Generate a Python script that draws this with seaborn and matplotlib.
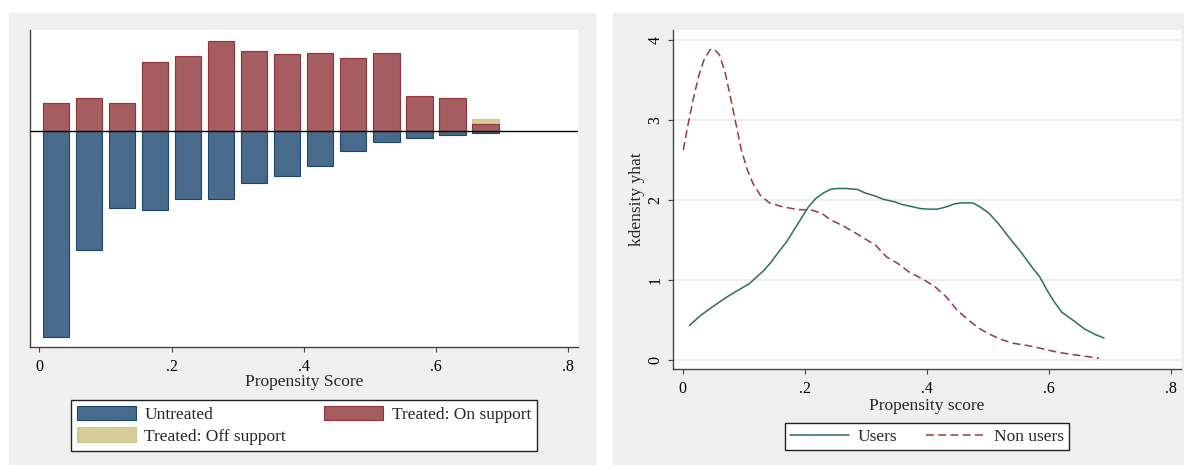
import matplotlib
matplotlib.use("Agg")
import matplotlib.pyplot as plt
import seaborn as sns
from matplotlib.patches import Rectangle, Patch
from matplotlib.lines import Line2D

# --- data: left panel (propensity score histogram, arbitrary count units) ---
bin_mid = [0.025, 0.075, 0.125, 0.175, 0.225, 0.275, 0.325,
           0.375, 0.425, 0.475, 0.525, 0.575, 0.625, 0.675]
untreated = [205.7, 118.3, 77.0, 78.7, 67.3, 67.3, 51.3,
             45.0, 34.7, 19.3, 10.3, 6.7, 3.7, 1.3]
treated_on = [28.3, 33.3, 28.3, 70.0, 75.7, 91.0, 80.7,
              77.3, 79.0, 74.0, 79.0, 35.3, 33.3, 7.3]
treated_off = [0, 0, 0, 0, 0, 0, 0, 0, 0, 0, 0, 0, 0, 5.3]

# --- data: right panel (kernel densities) ---
users_x = [0.011, 0.029, 0.048, 0.072, 0.090, 0.109, 0.121, 0.133, 0.145, 0.157,
           0.170, 0.182, 0.194, 0.206, 0.218, 0.231, 0.243, 0.255, 0.267, 0.286,
           0.298, 0.316, 0.328, 0.347, 0.359, 0.377, 0.389, 0.402, 0.417, 0.432,
           0.444, 0.456, 0.475, 0.487, 0.502, 0.517, 0.536, 0.554, 0.572, 0.585,
           0.597, 0.609, 0.621, 0.640, 0.658, 0.676, 0.690]
users_y = [0.431, 0.556, 0.661, 0.787, 0.870, 0.954, 1.038, 1.121, 1.226, 1.351,
           1.477, 1.623, 1.770, 1.916, 2.021, 2.092, 2.138, 2.146, 2.146, 2.134,
           2.092, 2.050, 2.012, 1.979, 1.946, 1.916, 1.895, 1.887, 1.887, 1.916,
           1.950, 1.966, 1.966, 1.916, 1.833, 1.707, 1.519, 1.351, 1.163, 1.038,
           0.870, 0.724, 0.598, 0.494, 0.389, 0.318, 0.276]
nonusers_x = [0.001, 0.008, 0.017, 0.026, 0.035, 0.045, 0.051, 0.060, 0.069, 0.078,
              0.087, 0.096, 0.106, 0.115, 0.127, 0.142, 0.164, 0.188, 0.212, 0.228,
              0.243, 0.261, 0.280, 0.298, 0.316, 0.334, 0.353, 0.371, 0.395, 0.414,
              0.432, 0.450, 0.469, 0.487, 0.505, 0.524, 0.542, 0.566, 0.591, 0.615,
              0.640, 0.664, 0.682]
nonusers_y = [2.627, 2.920, 3.255, 3.548, 3.757, 3.883, 3.891, 3.820, 3.611, 3.297,
              2.962, 2.627, 2.376, 2.209, 2.063, 1.966, 1.916, 1.883, 1.874, 1.833,
              1.749, 1.686, 1.602, 1.519, 1.435, 1.289, 1.205, 1.100, 1.004, 0.912,
              0.787, 0.619, 0.494, 0.389, 0.314, 0.251, 0.209, 0.180, 0.138, 0.096,
              0.067, 0.042, 0.021]

x_ticks = [0, 0.2, 0.4, 0.6, 0.8]
x_ticklabels = ["0", ".2", ".4", ".6", ".8"]
y_ticks = [0, 1, 2, 3, 4]

# 色
blue_fill, blue_edge = "#486a8b", "#1a476f"
red_fill, red_edge = "#a55d62", "#90353b"
khaki_fill, khaki_edge = "#d4cd98", "#cfc888"
teal = "#2a6f62"
maroon = "#973a40"
panel_gray = "#efefef"

sns.set_style("ticks")
plt.rcParams["font.family"] = ["Liberation Serif", "DejaVu Serif"]

W, H = 1184, 465
fig = plt.figure(figsize=(W / 100, H / 100), dpi=100, facecolor="white")

# gray panel backgrounds (behind axes)
fig.patches.append(Rectangle((9 / W, 0), (595 - 9) / W, (H - 13) / H,
                             transform=fig.transFigure, color=panel_gray, zorder=-10))
fig.patches.append(Rectangle((612.7 / W, 0), (W - 612.7) / W, (H - 13) / H,
                             transform=fig.transFigure, color=panel_gray, zorder=-10))

ax1 = fig.add_axes([30 / W, (H - 347.3) / H, 548 / W, 317.3 / H])
ax2 = fig.add_axes([672.7 / W, (H - 369.3) / H, 508 / W, 339.3 / H])

# --- left panel ---
treated_total = [a + b for a, b in zip(treated_on, treated_off)]
neg_untreated = [-v for v in untreated]
bar_kw = dict(native_scale=True, width=0.8, saturation=1, errorbar=None,
              linewidth=0.8, ax=ax1)
sns.barplot(x=bin_mid, y=neg_untreated, color=blue_fill, edgecolor=blue_edge, **bar_kw)
sns.barplot(x=bin_mid, y=treated_total, color=khaki_fill, edgecolor=khaki_edge, **bar_kw)
sns.barplot(x=bin_mid, y=treated_on, color=red_fill, edgecolor=red_edge, **bar_kw)
ax1.axhline(0, color="black", lw=1.0, zorder=5)

ax1.set_xlim(-0.0141, 0.815)
ax1.set_ylim(-216.3, 101.7)
ax1.set_yticks([])
ax1.set_xticks(x_ticks)
ax1.set_xticklabels(x_ticklabels)
ax1.set_ylabel("")
ax1.set_xlabel("Propensity Score", fontsize=12.5, va="center")
ax1.xaxis.set_label_coords(0.5, -(382 - 347.3) / 317.3)

# --- right panel ---
sns.lineplot(x=users_x, y=users_y, ax=ax2, color=teal, lw=1.1, estimator=None)
sns.lineplot(x=nonusers_x, y=nonusers_y, ax=ax2, color=maroon, lw=1.1,
             estimator=None, dashes=False, linestyle=(0, (5.2, 2.8)))
ax2.set_xlim(-0.0164, 0.8157)
ax2.set_ylim(-0.116, 4.128)
ax2.set_xticks(x_ticks)
ax2.set_xticklabels(x_ticklabels)
ax2.set_yticks(y_ticks)
ax2.set_yticklabels([str(v) for v in y_ticks], rotation=90, va="center")
ax2.grid(axis="y", color="#ebebeb", lw=1.3)
ax2.set_axisbelow(True)
ax2.set_xlabel("Propensity score", fontsize=12.5, va="center")
ax2.xaxis.set_label_coords(0.5, -(406 - 369.3) / 339.3)
ax2.set_ylabel("kdensity yhat", fontsize=12.5, va="center")
ax2.yaxis.set_label_coords(-(672.7 - 637.3) / 508, 0.5)

for ax in (ax1, ax2):
    ax.set_facecolor("white")
    sns.despine(ax=ax)
    for s in ("left", "bottom"):
        ax.spines[s].set_color("#444444")
        ax.spines[s].set_linewidth(1.0)
    ax.tick_params(axis="both", direction="out", length=3.6, width=0.8,
                   color="#444444", labelsize=11.5, labelcolor="black")
    ax.tick_params(axis="x", pad=5.0)
    ax.tick_params(axis="y", pad=3.0)

# --- legends ---
leg_kw = dict(frameon=True, fancybox=False, framealpha=1, edgecolor="#222222",
              fontsize=12.5, mode="expand", loc="center", handletextpad=0.5,
              borderaxespad=0)
h_left = [Patch(facecolor=blue_fill, edgecolor=blue_edge, lw=0.8),
          Patch(facecolor=khaki_fill, edgecolor=khaki_edge, lw=0.8),
          Patch(facecolor=red_fill, edgecolor=red_edge, lw=0.8)]
lg1 = fig.legend(h_left, ["Untreated", "Treated: Off support", "Treated: On support"],
                 ncol=2, bbox_to_anchor=(70.7 / W, (H - 451.3) / H, 466.6 / W, 52.3 / H),
                 handlelength=3.4, handleheight=0.9, labelspacing=0.25,
                 borderpad=0.35, **leg_kw)
lg1.get_frame().set_linewidth(1.0)

h_right = [Line2D([], [], color=teal, lw=1.1),
           Line2D([], [], color=maroon, lw=1.1, linestyle=(0, (5.2, 2.8)))]
lg2 = fig.legend(h_right, ["Users", "Non users"], ncol=2,
                 bbox_to_anchor=(785 / W, (H - 451.3) / H, 284 / W, 29.6 / H),
                 handlelength=3.4, borderpad=0.3, **leg_kw)
lg2.get_frame().set_linewidth(1.0)

fig.savefig("out.png", dpi=100, facecolor="white")
